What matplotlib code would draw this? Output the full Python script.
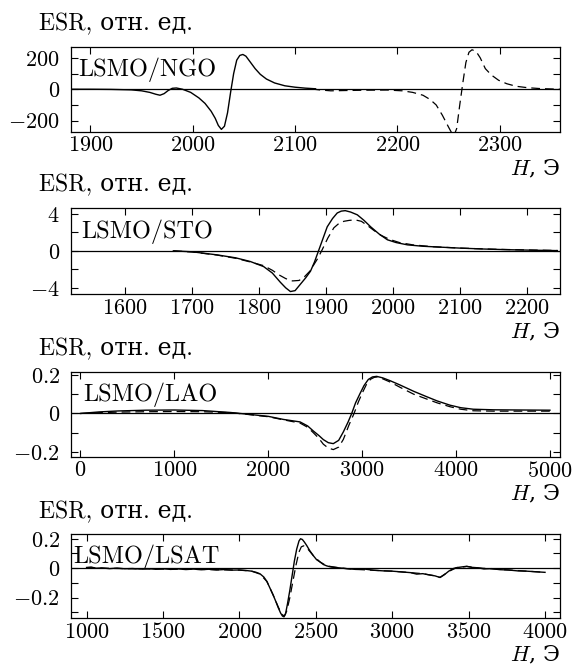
import matplotlib
matplotlib.use("Agg")
import matplotlib.pyplot as plt
from matplotlib.ticker import MultipleLocator, FuncFormatter

# --- DATA ---
ngo_h_solid = [1881, 1900, 1920, 1940, 1950, 1958, 1964, 1968, 1972, 1976,
               1980, 1984, 1990, 1998, 2006, 2012, 2018, 2022, 2025, 2028,
               2031, 2034, 2037, 2040, 2043, 2046, 2049, 2052, 2056, 2061,
               2066, 2072, 2080, 2090, 2100, 2110, 2120]
ngo_esr_solid = [0, 0, -1, -4, -10, -20, -32, -38, -28, -8,
                 6, 8, 0, -20, -55, -90, -140, -185, -230, -255,
                 -235, -150, -20, 100, 185, 215, 221, 210, 175, 131,
                 95, 65, 40, 22, 13, 7, 3]
ngo_h_dash = [2116, 2125, 2135, 2150, 2170, 2190, 2205, 2215, 2225, 2232,
              2238, 2244, 2250, 2255, 2258, 2261, 2264, 2267, 2270, 2273,
              2277, 2281, 2286, 2292, 2299, 2307, 2316, 2327, 2340, 2355,
              2360]
ngo_esr_dash = [2, -5, -10, -8, -6, -5, -10, -20, -38, -65,
                -100, -165, -240, -300, -250, -100, 40, 170, 235, 251,
                240, 200, 131, 90, 57, 35, 19, 10, 4, 1,
                0]

sto_h_solid = [1672, 1700, 1737, 1765, 1787, 1807, 1820, 1832, 1840, 1847,
               1854, 1862, 1870, 1877, 1883, 1889, 1895, 1902, 1910, 1917,
               1923, 1929, 1937, 1947, 1957, 1967, 1980, 1992, 2005, 2022,
               2045, 2072, 2100, 2136, 2170, 2211, 2246]
sto_esr_solid = [0.0, -0.1, -0.43, -0.75, -1.15, -1.7, -2.4, -3.4, -4.0, -4.4,
                 -4.3, -3.6, -2.9, -2.2, -1.2, 0.0, 1.2, 2.6, 3.5, 4.1,
                 4.3, 4.35, 4.2, 3.9, 3.3, 2.6, 1.8, 1.2, 0.9, 0.65,
                 0.5, 0.4, 0.3, 0.2, 0.13, 0.07, 0.03]
sto_h_dash = [1672, 1700, 1737, 1765, 1787, 1807, 1820, 1830, 1840, 1850,
              1860, 1868, 1876, 1882, 1888, 1895, 1903, 1912, 1920, 1927,
              1935, 1944, 1953, 1962, 1972, 1982, 1995, 2010, 2030, 2060,
              2100, 2150, 2200, 2246]
sto_esr_dash = [0.0, -0.12, -0.45, -0.8, -1.2, -1.6, -2.1, -2.6, -3.0, -3.25,
                -3.2, -2.8, -2.2, -1.5, -0.8, 0.2, 1.4, 2.5, 3.0, 3.2,
                3.3, 3.35, 3.2, 2.75, 2.2, 1.7, 1.25, 0.9, 0.65, 0.45,
                0.3, 0.18, 0.1, 0.04]

lao_h_solid = [0, 200, 400, 700, 1000, 1300, 1600, 1800, 2000, 2161,
               2339, 2420, 2480, 2540, 2587, 2640, 2693, 2750, 2800, 2850,
               2889, 2930, 2978, 3020, 3066, 3110, 3155, 3220, 3300, 3404,
               3550, 3688, 3800, 3936, 4050, 4184, 4400, 4700, 5000]
lao_esr_solid = [0, 0.008, 0.013, 0.017, 0.018, 0.015, 0.005, -0.005, -0.015, -0.031,
                 -0.044, -0.065, -0.091, -0.115, -0.136, -0.152, -0.157, -0.14, -0.096, -0.045,
                 0.0, 0.055, 0.104, 0.145, 0.177, 0.19, 0.193, 0.185, 0.17, 0.148,
                 0.115, 0.087, 0.065, 0.043, 0.03, 0.022, 0.019, 0.018, 0.017]
lao_h_dash = [0, 200, 400, 700, 1000, 1300, 1600, 1800, 2000, 2161,
              2339, 2420, 2480, 2540, 2587, 2640, 2693, 2750, 2800, 2860,
              2914, 2960, 3000, 3045, 3090, 3130, 3165, 3220, 3300, 3404,
              3550, 3688, 3800, 3936, 4050, 4184, 4400, 4700, 5000]
lao_esr_dash = [0, 0.004, 0.007, 0.009, 0.01, 0.009, 0.004, -0.006, -0.017, -0.033,
                -0.05, -0.072, -0.1, -0.13, -0.16, -0.18, -0.188, -0.175, -0.135, -0.06,
                0.0, 0.06, 0.105, 0.15, 0.178, 0.188, 0.19, 0.18, 0.163, 0.136,
                0.1, 0.075, 0.055, 0.035, 0.022, 0.014, 0.012, 0.012, 0.012]

lsat_h_solid = [1000, 1030, 1060, 1100, 1150, 1200, 1250, 1300, 1350, 1400,
                1450, 1500, 1550, 1600, 1650, 1700, 1750, 1800, 1850, 1900,
                1950, 2000, 2040, 2080, 2110, 2135, 2160, 2180, 2200, 2220,
                2240, 2255, 2270, 2282, 2292, 2302, 2315, 2330, 2345, 2360,
                2375, 2390, 2400, 2412, 2425, 2440, 2460, 2484, 2505, 2527,
                2550, 2571, 2600, 2658, 2700, 2760, 2820, 2880, 2942, 3000,
                3060, 3120, 3160, 3200, 3240, 3280, 3313, 3340, 3370, 3400,
                3422, 3450, 3488, 3520, 3560, 3600, 3650, 3706, 3760, 3820,
                3880, 3940, 4000]
lsat_esr_solid = [0.005, 0.008, 0.0, 0.002, -0.003, 0.001, -0.004, -0.002, -0.006, -0.003,
                  -0.007, -0.004, -0.008, -0.005, -0.009, -0.006, -0.01, -0.007, -0.012, -0.009,
                  -0.013, -0.012, -0.015, -0.02, -0.028, -0.038, -0.06, -0.09, -0.135, -0.18,
                  -0.23, -0.27, -0.305, -0.325, -0.33, -0.31, -0.24, -0.15, -0.05, 0.05,
                  0.13, 0.185, 0.2, 0.195, 0.178, 0.155, 0.12, 0.085, 0.058, 0.043,
                  0.025, 0.016, 0.008, 0.002, -0.003, -0.008, -0.006, -0.014, -0.018, -0.02,
                  -0.025, -0.03, -0.04, -0.037, -0.045, -0.052, -0.063, -0.045, -0.02, -0.002,
                  0.004, 0.008, 0.013, 0.006, 0.003, -0.005, -0.003, -0.01, -0.012, -0.018,
                  -0.02, -0.024, -0.028]
lsat_h_dash = [1000, 1100, 1200, 1300, 1400, 1500, 1600, 1700, 1800, 1900,
               2000, 2080, 2135, 2180, 2220, 2255, 2282, 2295, 2310, 2330,
               2350, 2370, 2390, 2405, 2420, 2440, 2460, 2484, 2527, 2571,
               2658, 2760, 2880, 3000, 3120, 3200, 3280, 3313, 3370, 3422,
               3488, 3560, 3650, 3760, 3880, 4000]
lsat_esr_dash = [0.004, 0.0, -0.002, -0.004, -0.005, -0.006, -0.007, -0.008, -0.009, -0.011,
                 -0.013, -0.02, -0.04, -0.09, -0.18, -0.265, -0.318, -0.322, -0.29, -0.2,
                 -0.09, 0.02, 0.11, 0.145, 0.152, 0.14, 0.115, 0.085, 0.043, 0.016,
                 0.002, -0.008, -0.014, -0.02, -0.03, -0.037, -0.052, -0.062, -0.022, 0.004,
                 0.012, 0.002, -0.004, -0.012, -0.02, -0.028]

sample_names = ["LSMO/NGO", "LSMO/STO", "LSMO/LAO", "LSMO/LSAT"]
y_title = "ESR, отн. ед."
x_title = "$H$, Э"

# --- STYLE ---
plt.rcParams['font.family'] = ['cmr10', 'DejaVu Serif']
plt.rcParams['mathtext.fontset'] = 'cm'
plt.rcParams['axes.linewidth'] = 0.9


def fmt_tick(v, pos):
    return "$%g$" % v


def draw_panel(fig, rect, solid, dash, name, xlim, ylim, xstep, ymajor, yminor, name_x):
    ax = fig.add_axes(rect)
    ax.plot(solid[0], solid[1], color='black', lw=1.0)
    ax.plot(dash[0], dash[1], color='black', lw=0.9, linestyle=(0, (7, 4)))
    ax.axhline(0, color='black', lw=0.9)
    ax.set_xlim(*xlim)
    ax.set_ylim(*ylim)
    ax.xaxis.set_major_locator(MultipleLocator(xstep))
    ax.yaxis.set_major_locator(MultipleLocator(ymajor))
    ax.yaxis.set_minor_locator(MultipleLocator(yminor))
    ax.xaxis.set_major_formatter(FuncFormatter(fmt_tick))
    ax.yaxis.set_major_formatter(FuncFormatter(fmt_tick))
    ax.tick_params(which='both', direction='in', top=True, right=True,
                   length=5, width=0.8, labelsize=16)
    ax.tick_params(axis='x', pad=3)
    ax.tick_params(axis='y', pad=8)
    ax.text(name_x, 0.73, name, transform=ax.transAxes, fontsize=17.5,
            ha='left', va='center')
    ax.text(-0.065, 1.27, y_title, transform=ax.transAxes, fontsize=17,
            ha='left', va='center')
    ax.text(1.0, -0.44, x_title, transform=ax.transAxes, fontsize=16,
            ha='right', va='center', family='DejaVu Serif')
    return ax


fig = plt.figure(figsize=(5.73, 6.68), dpi=100)

left = 71 / 573
width = 489 / 573

draw_panel(fig, [left, 0.8028, width, 0.1272],
           (ngo_h_solid, ngo_esr_solid), (ngo_h_dash, ngo_esr_dash),
           sample_names[0], (1881, 2359), (-270, 270), 100, 200, 100, 0.015)
draw_panel(fig, [left, 0.5594, width, 0.1287],
           (sto_h_solid, sto_esr_solid), (sto_h_dash, sto_esr_dash),
           sample_names[1], (1519, 2250), (-4.7, 4.6), 100, 4, 2, 0.02)
draw_panel(fig, [left, 0.3163, width, 0.1272],
           (lao_h_solid, lao_esr_solid), (lao_h_dash, lao_esr_dash),
           sample_names[2], (-100, 5107), (-0.225, 0.217), 1000, 0.2, 0.1, 0.025)
draw_panel(fig, [left, 0.0744, width, 0.1257],
           (lsat_h_solid, lsat_esr_solid), (lsat_h_dash, lsat_esr_dash),
           sample_names[3], (898, 4098), (-0.34, 0.23), 500, 0.2, 0.1, 0.005)

fig.savefig("out.png", dpi=100)
